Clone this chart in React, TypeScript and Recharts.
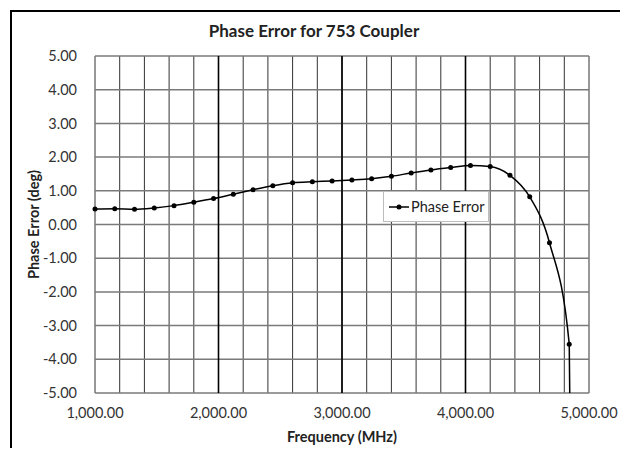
import React from 'react';
import {
  LineChart,
  Line,
  XAxis,
  YAxis,
  CartesianGrid,
  ReferenceLine,
} from 'recharts';

// Frequency (MHz) sample points and measured phase error (deg)
const FREQUENCIES = [
  1000, 1160, 1320, 1480, 1640, 1800, 1960, 2120, 2280, 2440, 2600, 2760, 2920,
  3080, 3240, 3400, 3560, 3720, 3880, 4040, 4200, 4360, 4520, 4680, 4840, 5000,
];
const PHASE_ERROR = [
  0.46, 0.47, 0.45, 0.49, 0.56, 0.66, 0.77, 0.9, 1.03, 1.15, 1.24, 1.27, 1.29,
  1.32, 1.36, 1.43, 1.53, 1.62, 1.69, 1.75, 1.72, 1.46, 0.82, -0.54, -3.55, -60,
];

const X_TICKS = [
  1000, 1200, 1400, 1600, 1800, 2000, 2200, 2400, 2600, 2800, 3000, 3200, 3400,
  3600, 3800, 4000, 4200, 4400, 4600, 4800, 5000,
];
const X_MAJOR = [2000, 3000, 4000];
const Y_TICKS = [-5, -4, -3, -2, -1, 0, 1, 2, 3, 4, 5];
const SERIES_NAME = 'Phase Error';

const FONT = 'Lato, "Open Sans", sans-serif';

const data = FREQUENCIES.map((f, i) => ({ freq: f, phase: PHASE_ERROR[i] }));

const fmtFreq = (v: number) =>
  v % 1000 === 0
    ? v.toLocaleString('en-US', { minimumFractionDigits: 2, maximumFractionDigits: 2 })
    : '';

function LegendBox() {
  return (
    <div
      style={{
        position: 'absolute',
        left: 383,
        top: 191,
        width: 106,
        height: 31,
        display: 'flex',
        alignItems: 'center',
        border: '1px solid #bdbdbd',
        background: '#fff',
        boxSizing: 'border-box',
        paddingLeft: 5,
        fontFamily: FONT,
        fontSize: 14.5,
        color: '#222',
      }}
    >
      <svg width={20} height={10} style={{ marginRight: 2 }}>
        <line x1={0} y1={5} x2={20} y2={5} stroke="#000" strokeWidth={1.5} />
        <circle cx={10} cy={5} r={2.5} fill="#000" />
      </svg>
      <span>{SERIES_NAME}</span>
    </div>
  );
}

export default function App() {
  return (
    <div
      style={{
        position: 'relative',
        width: 628,
        height: 456,
        margin: -8,
        background: '#fff',
        overflow: 'hidden',
      }}
    >
      <div
        style={{
          position: 'absolute',
          left: 10,
          top: 10,
          width: 612,
          height: 470,
          borderTop: '2px solid #000',
          borderLeft: '2px solid #000',
          borderRight: '1px solid #555',
        }}
      />
      <div
        style={{
          position: 'absolute',
          top: 20,
          width: 628,
          textAlign: 'center',
          fontFamily: FONT,
          fontWeight: 700,
          fontSize: 17,
          color: '#222',
        }}
      >
        Phase Error for 753 Coupler
      </div>
      <div style={{ position: 'absolute', left: 0, top: 0 }}>
        <LineChart
          width={628}
          height={456}
          data={data}
          margin={{ top: 56, right: 39, left: 15, bottom: 0 }}
        >
          <CartesianGrid horizontal={false} stroke="#333" strokeWidth={1} />
          <CartesianGrid vertical={false} stroke="#7a7a7a" strokeWidth={1.5} />
          {X_MAJOR.map((x) => (
            <ReferenceLine key={x} x={x} stroke="#000" strokeWidth={1.6} />
          ))}
          <XAxis
            dataKey="freq"
            type="number"
            domain={[1000, 5000]}
            ticks={X_TICKS}
            interval={0}
            tickFormatter={fmtFreq}
            axisLine={false}
            tickLine={false}
            height={63}
            tick={{ fontFamily: FONT, fontSize: 14.5, fill: '#333' }}
            tickMargin={9}
            label={{
              value: 'Frequency (MHz)',
              position: 'insideBottom',
              offset: 14,
              style: { fontFamily: FONT, fontWeight: 700, fontSize: 14.5, fill: '#222' },
            }}
          />
          <YAxis
            type="number"
            domain={[-5, 5]}
            ticks={Y_TICKS}
            allowDataOverflow
            tickFormatter={(v: number) => v.toFixed(2)}
            axisLine={false}
            tickLine={false}
            width={80}
            tickMargin={12}
            tick={{ fontFamily: FONT, fontSize: 14.5, fill: '#333' }}
            label={{
              value: 'Phase Error (deg)',
              angle: -90,
              position: 'insideLeft',
              offset: 19,
              style: {
                fontFamily: FONT,
                fontWeight: 700,
                fontSize: 14.5,
                fill: '#222',
                textAnchor: 'middle',
              },
            }}
          />
          <Line
            type="monotoneX"
            dataKey="phase"
            name={SERIES_NAME}
            stroke="#000"
            strokeWidth={1.5}
            dot={{ r: 2.5, fill: '#000', stroke: '#000', strokeWidth: 0 }}
            isAnimationActive={false}
          />
        </LineChart>
      </div>
      <LegendBox />
    </div>
  );
}
